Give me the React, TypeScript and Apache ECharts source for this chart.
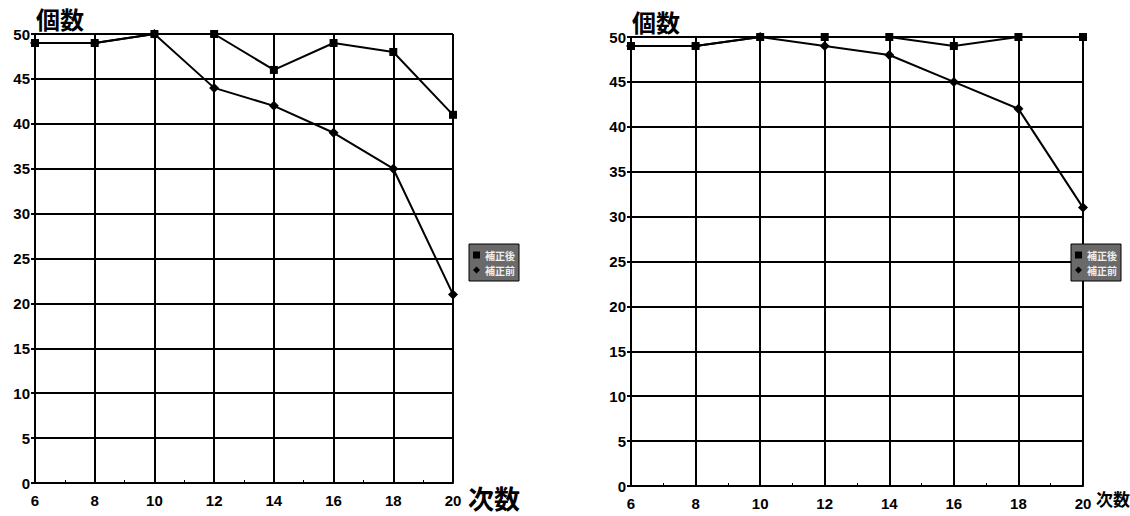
import React, { useEffect, useRef } from "react";
import * as echarts from "echarts";

const xValues = [6, 8, 10, 12, 14, 16, 18, 20];
const leftAfter = [49, 49, 50, 50, 46, 49, 48, 41];
const leftBefore = [49, 49, 50, 44, 42, 39, 35, 21];
const rightAfter = [49, 49, 50, 50, 50, 49, 50, 50];
const rightBefore = [49, 49, 50, 49, 48, 45, 42, 31];
const seriesNames = ["補正後", "補正前"];
const yName = "個数";
const xName = "次数";

const pairs = (ys: number[]) => xValues.map((x, i) => [x, ys[i]]);

export default function App() {
  const ref = useRef<HTMLDivElement>(null);
  useEffect(() => {
    document.body.style.margin = "0";
    const chart = echarts.init(ref.current!, undefined, { renderer: "svg" });
    const axisLabel = { color: "#000", fontWeight: "bold", fontSize: 15, fontFamily: "Liberation Sans, Arial" };
    const lineStyle = { color: "#000", width: 2 };
    const mkX = (gi: number) => ({
      type: "value", gridIndex: gi, min: 6, max: 20, interval: 2,
      axisLine: { show: true, lineStyle }, axisTick: { show: true, length: 4, inside: true, lineStyle },
      minorTick: { show: true, splitNumber: 2, length: 3, lineStyle: { color: "#000" } },
      splitLine: { show: true, lineStyle },
      axisLabel: { ...axisLabel, margin: 10 },
    });
    const mkY = (gi: number) => ({
      type: "value", gridIndex: gi, min: 0, max: 50, interval: 5,
      axisLine: { show: true, lineStyle }, axisTick: { show: true, length: 4, lineStyle },
      splitLine: { show: true, lineStyle },
      axisLabel: { ...axisLabel, margin: 5 },
    });
    const mkSeries = (gi: number, name: string, data: number[], symbol: string) => ({
      type: "line", name, xAxisIndex: gi, yAxisIndex: gi, data: pairs(data),
      symbol, symbolSize: symbol === "rect" ? 8 : 10, itemStyle: { color: "#000" },
      lineStyle: { color: "#000", width: 2 },
    });
    const legend = (left: number, top: number) => ({
      orient: "vertical", left, top, width: 56, itemWidth: 7, itemHeight: 7, itemGap: 5,
      padding: [6, 4, 6, 4], backgroundColor: "#6a6a6a", borderColor: "#000", borderWidth: 1,
      textStyle: { color: "#eee", fontSize: 10, fontWeight: "bold", fontFamily: "Noto Sans CJK JP" },
      data: [
        { name: seriesNames[0], icon: "rect" },
        { name: seriesNames[1], icon: "diamond" },
      ],
    });
    const titleText = (text: string, left: number, top: number, size: number) => ({
      type: "text", left, top,
      style: { text, fill: "#000", font: `bold ${size}px 'Noto Sans CJK JP'` },
    });
    chart.setOption({
      animation: false,
      grid: [
        { left: 35, top: 34, width: 418, height: 449 },
        { left: 631, top: 37, width: 452, height: 449 },
      ],
      xAxis: [mkX(0), mkX(1)],
      yAxis: [mkY(0), mkY(1)],
      legend: [legend(469, 244), legend(1071, 244)],
      series: [
        mkSeries(0, seriesNames[0], leftAfter, "rect"),
        mkSeries(0, seriesNames[1], leftBefore, "diamond"),
        mkSeries(1, seriesNames[0], rightAfter, "rect"),
        mkSeries(1, seriesNames[1], rightBefore, "diamond"),
      ],
      graphic: [
        titleText(yName, 36, 6, 24),
        titleText(yName, 632, 9, 24),
        titleText(xName, 468, 484, 26),
        titleText(xName, 1096, 490, 17),
      ],
    });
    return () => chart.dispose();
  }, []);
  return <div ref={ref} style={{ width: 1130, height: 516 }} />;
}
